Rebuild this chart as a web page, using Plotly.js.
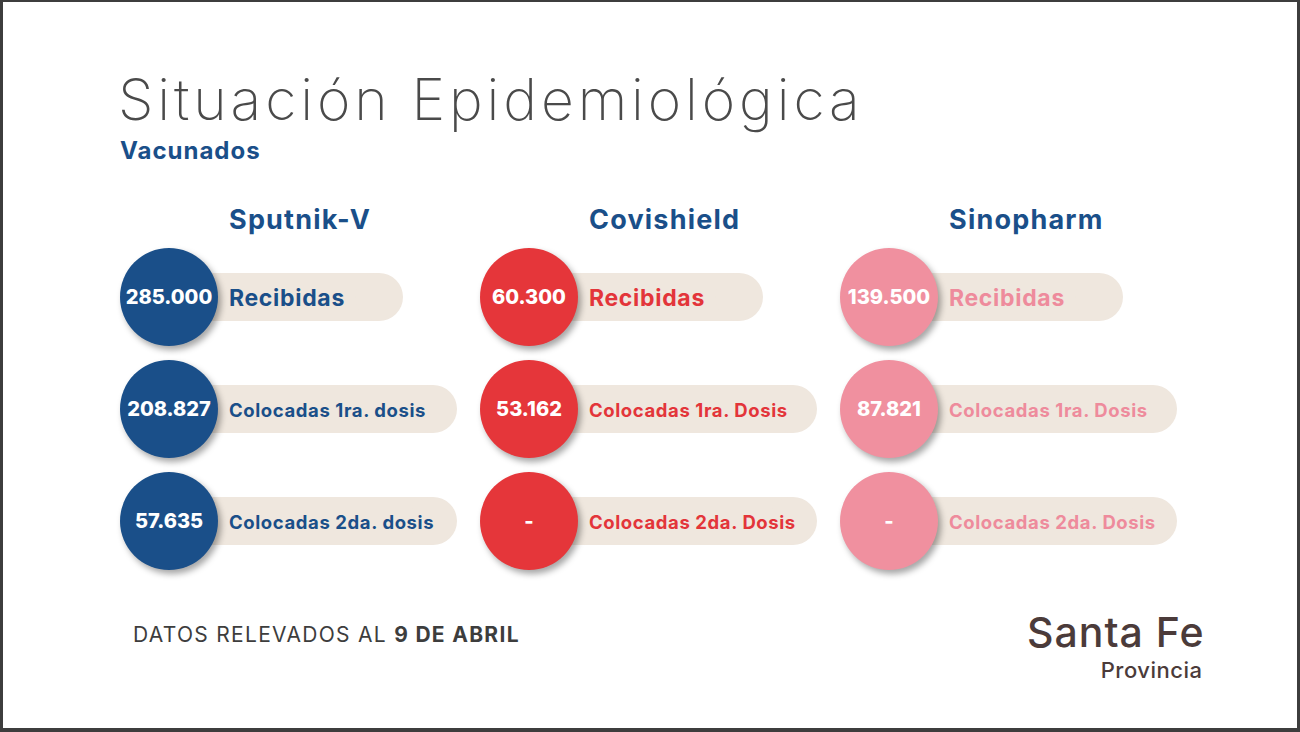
<!DOCTYPE html>
<html><head><meta charset="utf-8">
<script src="https://cdn.plot.ly/plotly-3.0.1.min.js"></script>
<style>
html,body{margin:0;padding:0;background:#fff;overflow:hidden}
#chart{width:1300px;height:732px}
.scatterlayer .trace:first-child path.point{filter:drop-shadow(3px 4px 3px rgba(0,0,0,0.35))}
</style></head><body><div id="chart"></div>
<script>
// ---- data ----
const vaccines = ['Sputnik-V', 'Covishield', 'Sinopharm'];
const recibidas = [285000, 60300, 139500];
const dosis1 = [208827, 53162, 87821];
const dosis2 = [57635, null, null];
const rowLabelsSputnik = ['Recibidas', 'Colocadas 1ra. dosis', 'Colocadas 2da. dosis'];
const rowLabelsOthers = ['Recibidas', 'Colocadas 1ra. Dosis', 'Colocadas 2da. Dosis'];
const titleText = 'Situación Epidemiológica';
const subtitleText = 'Vacunados';
const footerText = 'DATOS RELEVADOS AL <b>9 DE ABRIL</b>';

// ---- styling / layout ----
const colors = ['#1a4f89', '#e5363a', '#f0909f'];
const labelColors = ['#1a4f89', '#e3353a', '#ee8b9c'];
const pillColor = '#efe7de';
const colX = [169, 529, 889];
const rowY = [297, 409, 521];
const pillLen = [234, 288, 288];
const pillH = 48;
const circleD = 98;
const boldFont = 'Inter, "Open Sans", sans-serif';

function fmt(v) {
  if (v === null || v === undefined) return '-';
  return String(v).replace(/\B(?=(\d{3})+(?!\d))/g, '.');
}

const series = [recibidas, dosis1, dosis2];
const shapes = [];
const circX = [], circY = [], circC = [], numT = [];
const annotations = [];
const spacing = []; // letter-spacing per annotation (px)

function addAnn(a, ls) { annotations.push(a); spacing.push(ls || 0); }

vaccines.forEach((v, c) => {
  const labels = c === 0 ? rowLabelsSputnik : rowLabelsOthers;
  addAnn({x: colX[c] + 58, y: 219, xref: 'x', yref: 'y', xanchor: 'left', yanchor: 'middle',
    text: '<b>' + v + '</b>', showarrow: false, font: {family: boldFont, size: 27, color: '#1a4f89', weight: 800}}, 1.2);
  series.forEach((s, r) => {
    const x0 = colX[c], x1 = colX[c] + pillLen[r], yc = rowY[r];
    shapes.push({type: 'rect', layer: 'below', xref: 'x', yref: 'y', x0: x0, x1: x1 - pillH / 2,
      y0: yc - pillH / 2, y1: yc + pillH / 2, fillcolor: pillColor, line: {width: 0}});
    shapes.push({type: 'circle', layer: 'below', xref: 'x', yref: 'y', x0: x1 - pillH, x1: x1,
      y0: yc - pillH / 2, y1: yc + pillH / 2, fillcolor: pillColor, line: {width: 0}});
    circX.push(x0); circY.push(yc); circC.push(colors[c]); numT.push(fmt(s[c]));
    addAnn({x: colX[c] + 58, y: yc + 1, xref: 'x', yref: 'y', xanchor: 'left', yanchor: 'middle',
      text: '<b>' + labels[r] + '</b>', showarrow: false,
      font: {family: boldFont, size: r === 0 ? 23 : 18.5, color: labelColors[c], weight: 800}}, r === 0 ? 0.7 : 0.6);
  });
});

// border
const bc = '#3d3d3d';
shapes.push({type: 'rect', xref: 'paper', yref: 'paper', x0: 0, x1: 3 / 1300, y0: 0, y1: 1, fillcolor: bc, line: {width: 0}});
shapes.push({type: 'rect', xref: 'paper', yref: 'paper', x0: 1 - 3 / 1300, x1: 1, y0: 0, y1: 1, fillcolor: bc, line: {width: 0}});
shapes.push({type: 'rect', xref: 'paper', yref: 'paper', x0: 0, x1: 1, y0: 1 - 2 / 732, y1: 1, fillcolor: bc, line: {width: 0}});
shapes.push({type: 'rect', xref: 'paper', yref: 'paper', x0: 0, x1: 1, y0: 0, y1: 4 / 732, fillcolor: bc, line: {width: 0}});

addAnn({x: 117, y: 99.5, xref: 'x', yref: 'y', xanchor: 'left', yanchor: 'middle', text: titleText, borderpad: 0,
  showarrow: false, font: {family: 'Inter, Lato, sans-serif', size: 57, color: '#4a4a4a', weight: 200}}, 3.9);
addAnn({x: 119, y: 150, xref: 'x', yref: 'y', xanchor: 'left', yanchor: 'middle', text: '<b>' + subtitleText + '</b>', borderpad: 0,
  showarrow: false, font: {family: boldFont, size: 24, color: '#1a4f89', weight: 800}}, 1.0);
addAnn({x: 131, y: 634, xref: 'x', yref: 'y', xanchor: 'left', yanchor: 'middle', text: footerText,
  showarrow: false, font: {family: 'Inter, sans-serif', size: 21, color: '#3d3d3d'}}, 1.3);
addAnn({x: 1203, y: 632, xref: 'x', yref: 'y', xanchor: 'right', yanchor: 'middle', text: 'Santa Fe',
  showarrow: false, font: {family: 'Inter, sans-serif', size: 41, color: '#4b3b3a', weight: 500}}, 1.0);
addAnn({x: 1202, y: 670, xref: 'x', yref: 'y', xanchor: 'right', yanchor: 'middle', text: 'Provincia',
  showarrow: false, font: {family: 'Inter, sans-serif', size: 22, color: '#4b3b3a', weight: 500}}, 0.5);

const traces = [
  {type: 'scatter', mode: 'markers', x: circX, y: circY, hoverinfo: 'skip',
    marker: {size: circleD, color: circC, line: {width: 0}}},
  {type: 'scatter', mode: 'text', x: circX, y: circY, text: numT, hoverinfo: 'skip',
    textposition: 'middle center', textfont: {family: boldFont, size: 20, color: '#ffffff', weight: 800}}
];

const layout = {
  width: 1300, height: 732, margin: {l: 0, r: 0, t: 0, b: 0},
  paper_bgcolor: '#ffffff', plot_bgcolor: '#ffffff', showlegend: false,
  xaxis: {range: [0, 1300], visible: false, fixedrange: true},
  yaxis: {range: [732, 0], visible: false, fixedrange: true},
  shapes: shapes, annotations: annotations
};
Plotly.newPlot('chart', traces, layout, {displayModeBar: false, staticPlot: true}).then(gd => {
  const texts = gd.querySelectorAll('.annotation .annotation-text');
  texts.forEach((t, i) => {
    if (!spacing[i]) return;
    const w0 = t.getBBox().width;
    t.style.letterSpacing = spacing[i] + 'px';
    const w1 = t.getBBox().width;
    if (annotations[i].xanchor === 'left') {
      const dx = (w1 - w0) / 2;
      const x = parseFloat(t.getAttribute('x') || '0');
      t.setAttribute('x', x + dx);
      t.querySelectorAll('tspan[x]').forEach(ts => ts.setAttribute('x', parseFloat(ts.getAttribute('x')) + dx));
    }
  });
  gd.querySelectorAll('.scatterlayer .trace:nth-child(2) .textpoint text').forEach(t => {
    t.setAttribute('transform', 'translate(0,2)');
  });
});
</script></body></html>
